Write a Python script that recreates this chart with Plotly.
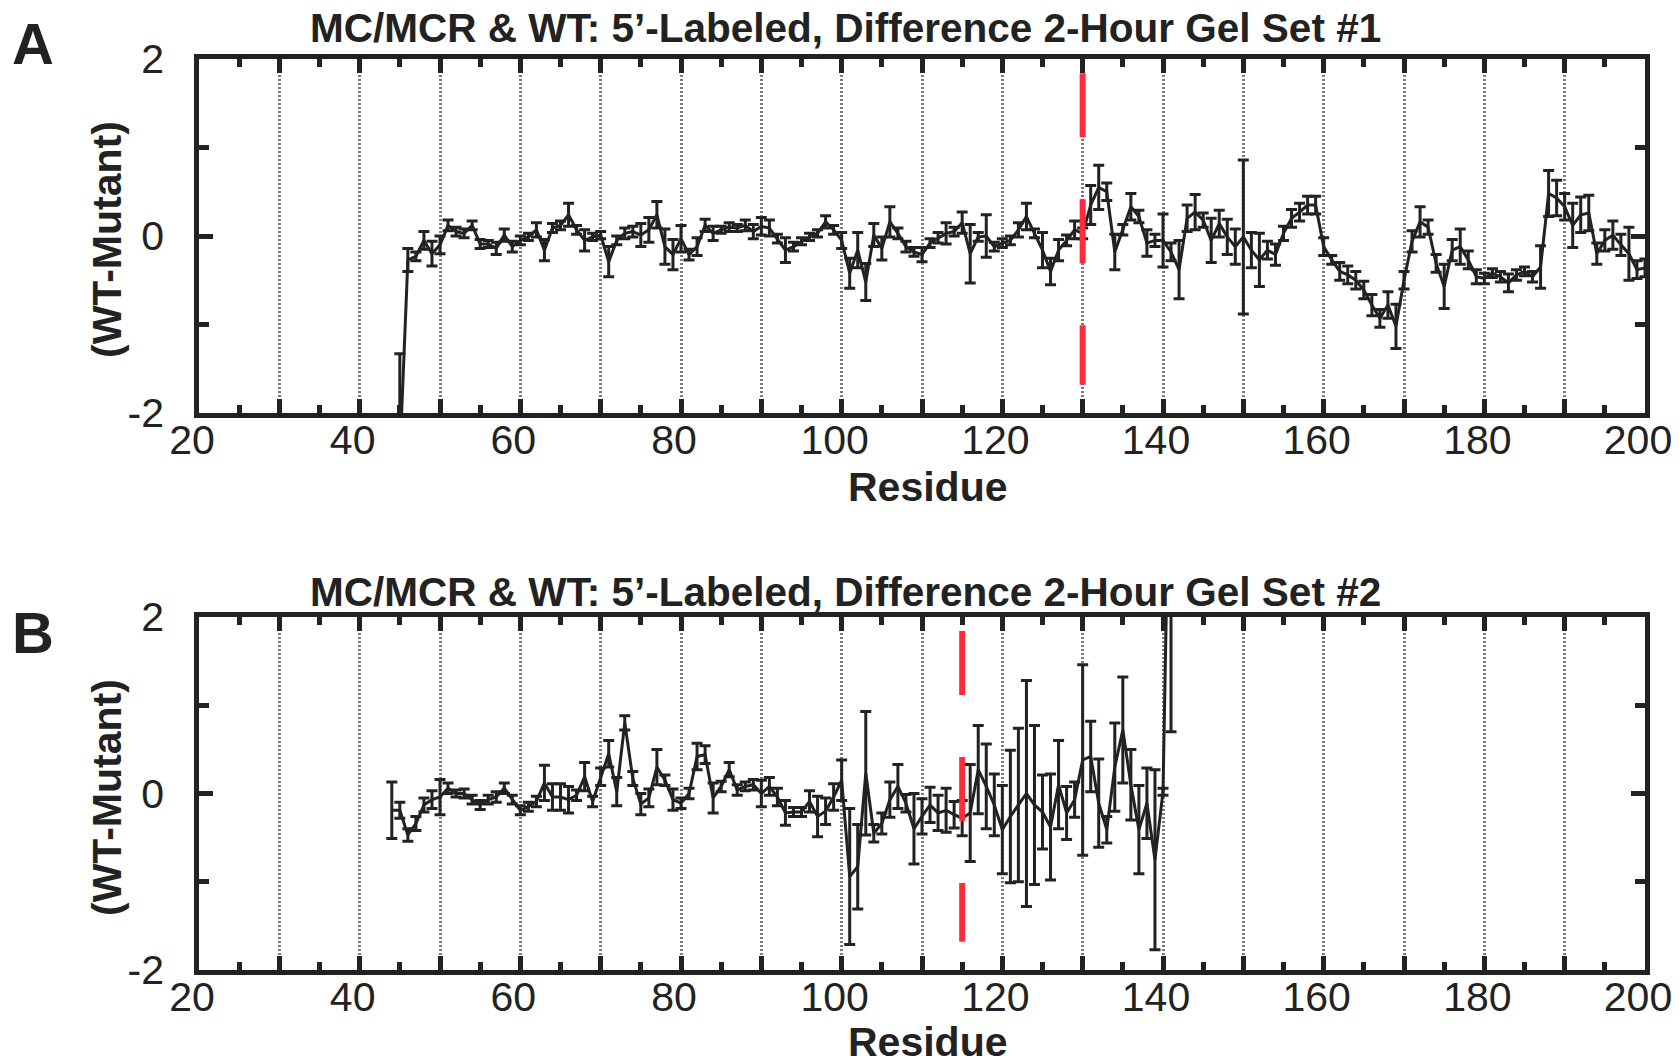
import plotly.graph_objects as go

# ---------------- data ----------------
res_a = list(range(45, 201))
val_a = [-2.5, -0.27, -0.23, -0.05, -0.2, -0.1, 0.12, 0.05, 0.03, 0.12,
         -0.09, -0.09, -0.14, 0.01, -0.12, -0.05, -0.01, 0.07, -0.16, 0.09,
         0.12, 0.24, 0.07, -0.05, -0.01, 0.01, -0.29, -0.05, 0.03, 0.05,
         0.01, 0.07, 0.24, -0.12, -0.21, -0.03, -0.21, -0.12, 0.12, 0.03,
         0.07, 0.1, 0.09, 0.12, 0.05, 0.11, 0.09, -0.03, -0.16, -0.12,
         -0.06, -0.01, 0.03, 0.16, 0.07, -0.05, -0.42, -0.16, -0.52, 0.01,
         -0.14, 0.16, 0.03, -0.12, -0.18, -0.21, -0.08, -0.02, 0.03, 0.05,
         0.15, -0.2, -0.01, 0.0, -0.12, -0.08, -0.05, 0.07, 0.22, 0.03,
         -0.16, -0.4, -0.16, -0.05, 0.07, 0.03, 0.35, 0.55, 0.5, -0.18,
         0.07, 0.33, 0.22, -0.08, -0.05, -0.05, -0.18, -0.38, 0.2, 0.27,
         0.18, -0.05, 0.14, -0.01, -0.12, -0.01, -0.16, -0.27, -0.16, -0.21,
         0.03, 0.2, 0.27, 0.35, 0.35, -0.12, -0.27, -0.4, -0.44, -0.5,
         -0.61, -0.78, -0.93, -0.78, -1.02, -0.5, -0.06, 0.16, 0.1, -0.31,
         -0.57, -0.16, -0.12, -0.27, -0.46, -0.48, -0.42, -0.46, -0.53, -0.44,
         -0.4, -0.46, -0.35, 0.48, 0.43, 0.33, 0.12, 0.24, 0.26, -0.2,
         -0.05, 0.01, -0.1, -0.2, -0.38, -0.36]
err_a = [1.17, 0.13, 0.05, 0.1, 0.14, 0.1, 0.06, 0.05, 0.05, 0.05,
         0.05, 0.04, 0.07, 0.07, 0.06, 0.05, 0.04, 0.08, 0.12, 0.05,
         0.05, 0.13, 0.05, 0.12, 0.04, 0.04, 0.17, 0.05, 0.06, 0.06,
         0.13, 0.14, 0.15, 0.2, 0.17, 0.15, 0.06, 0.1, 0.07, 0.08,
         0.04, 0.05, 0.04, 0.06, 0.08, 0.1, 0.09, 0.05, 0.14, 0.05,
         0.04, 0.04, 0.04, 0.07, 0.05, 0.09, 0.17, 0.2, 0.21, 0.13,
         0.13, 0.17, 0.06, 0.06, 0.05, 0.08, 0.05, 0.06, 0.12, 0.05,
         0.12, 0.33, 0.05, 0.24, 0.05, 0.05, 0.05, 0.08, 0.15, 0.05,
         0.2, 0.15, 0.12, 0.06, 0.1, 0.06, 0.22, 0.25, 0.1, 0.2,
         0.06, 0.15, 0.07, 0.15, 0.07, 0.3, 0.1, 0.33, 0.15, 0.2,
         0.08, 0.25, 0.15, 0.2, 0.2, 0.87, 0.2, 0.3, 0.1, 0.12,
         0.08, 0.1, 0.1, 0.1, 0.1, 0.1, 0.05, 0.1, 0.1, 0.1,
         0.1, 0.12, 0.1, 0.15, 0.25, 0.1, 0.12, 0.17, 0.08, 0.1,
         0.25, 0.12, 0.2, 0.1, 0.08, 0.06, 0.05, 0.06, 0.1, 0.06,
         0.05, 0.06, 0.24, 0.26, 0.2, 0.15, 0.25, 0.2, 0.2, 0.12,
         0.12, 0.16, 0.12, 0.3, 0.1, 0.1]

res_b = list(range(44, 142))
val_b = [-0.19, -0.19, -0.47, -0.34, -0.13, -0.07, -0.04, 0.06, 0.0, 0.0,
         -0.07, -0.13, -0.07, -0.04, 0.06, -0.07, -0.19, -0.15, -0.09, 0.12,
         -0.04, -0.04, -0.07, -0.02, 0.19, -0.09, 0.19, 0.45, 0.02, 0.8,
         0.17, -0.12, -0.05, 0.3, 0.15, -0.07, -0.11, 0.0, 0.42, 0.44,
         -0.05, 0.08, 0.27, 0.04, 0.08, 0.1, 0.0, 0.08, -0.04, -0.22,
         -0.21, -0.21, -0.09, -0.26, -0.2, -0.04, 0.15, -0.94, -0.83, 0.23,
         -0.45, -0.34, -0.07, 0.08, -0.11, -0.4, -0.26, -0.13, -0.22, -0.19,
         -0.24, -0.28, -0.22, 0.27, 0.08, -0.13, -0.41, -0.26, -0.13, 0.0,
         -0.13, -0.21, -0.38, 0.1, -0.22, -0.07, 0.38, 0.42, -0.11, -0.41,
         0.3, 0.72, 0.1, -0.41, -0.11, -0.75, 0.02, 5.0]
err_b = [0.32, 0.09, 0.07, 0.08, 0.08, 0.1, 0.2, 0.06, 0.04, 0.05,
         0.05, 0.05, 0.05, 0.06, 0.06, 0.05, 0.05, 0.05, 0.06, 0.2,
         0.15, 0.15, 0.15, 0.06, 0.16, 0.06, 0.1, 0.15, 0.16, 0.08,
         0.08, 0.12, 0.1, 0.2, 0.06, 0.12, 0.06, 0.06, 0.15, 0.1,
         0.17, 0.06, 0.08, 0.06, 0.05, 0.06, 0.15, 0.1, 0.1, 0.14,
         0.05, 0.05, 0.12, 0.23, 0.15, 0.15, 0.23, 0.77, 0.48, 0.7,
         0.1, 0.12, 0.2, 0.25, 0.1, 0.4, 0.2, 0.2, 0.2, 0.25,
         0.15, 0.2, 0.55, 0.5, 0.48, 0.35, 0.5, 0.75, 0.87, 1.28,
         0.9, 0.42, 0.6, 0.5, 0.3, 0.2, 1.08, 0.4, 0.5, 0.15,
         0.5, 0.6, 0.4, 0.5, 0.4, 1.02, 0.04, 4.3]

mark_a = 130
mark_b = 115
title_a = "MC/MCR & WT: 5’-Labeled, Difference 2-Hour Gel Set #1"
title_b = "MC/MCR & WT: 5’-Labeled, Difference 2-Hour Gel Set #2"
x_tickvals = list(range(20, 201, 10))
x_ticktext = [str(v) if v % 20 == 0 else "" for v in x_tickvals]
y_tickvals = [-2, 0, 2]

# ---------------- figure ----------------
SW, SH = 1679, 1062          # browser window
OFF = 8                      # default page body margin
W, H = SW - OFF, SH - OFF    # plot div reaches the window edges
DARK = "#222222"
TICKFONT = dict(family="Liberation Sans, Arial, sans-serif", size=41, color=DARK)
BOLDFAM = "Liberation Sans Narrow, Arial Narrow, Liberation Sans, Arial, sans-serif"

def px_x(x):
    return (x - OFF) / W

def px_y(y):
    return 1 - (y - OFF) / H

fig = go.Figure()
for res, val, err, xa, ya in [(res_a, val_a, err_a, "x", "y"),
                              (res_b, val_b, err_b, "x2", "y2")]:
    fig.add_trace(go.Scatter(
        x=res, y=val, mode="lines", xaxis=xa, yaxis=ya,
        line=dict(color=DARK, width=3),
        error_y=dict(type="data", array=err, visible=True, color=DARK,
                     thickness=3, width=5.5),
        showlegend=False, cliponaxis=True))

def xax(anchor):
    return dict(
        domain=[px_x(199), px_x(1645)], range=[20, 200], anchor=anchor, automargin=False,
        tickmode="array", tickvals=x_tickvals, ticktext=x_ticktext,
        ticks="inside", ticklen=14, tickwidth=5, tickcolor=DARK,
        showline=True, linewidth=4.5, linecolor=DARK, mirror="ticks",
        showgrid=True, gridcolor="#7a7a7a", gridwidth=2.5, griddash="2px,2px",
        zeroline=False, tickfont=TICKFONT, ticklabeloverflow="allow",
        ticklabelshift=-7,
        minor=dict(dtick=5, tick0=20, ticks="inside", ticklen=8, tickwidth=5,
                   tickcolor=DARK, showgrid=False),
        ticklabelstandoff=-13,
    )

def yax(top, bottom, anchor):
    return dict(
        domain=[px_y(bottom), px_y(top)], range=[-2, 2], anchor=anchor, automargin=False,
        tickmode="array", tickvals=y_tickvals, ticktext=[str(v) for v in y_tickvals],
        ticks="inside", ticklen=14, tickwidth=5, tickcolor=DARK,
        showline=True, linewidth=4.5, linecolor=DARK, mirror="ticks",
        showgrid=False, zeroline=False, tickfont=TICKFONT, ticklabeloverflow="allow",
        minor=dict(dtick=1, tick0=0, ticks="inside", ticklen=10, tickwidth=5,
                   tickcolor=DARK, showgrid=False),
        ticklabelstandoff=22,
    )

fig.update_layout(
    width=W, height=H, margin=dict(l=0, r=0, t=0, b=0, autoexpand=False),
    paper_bgcolor="white", plot_bgcolor="white",
    xaxis=xax("y"), yaxis=yax(59, 413, "x"),
    xaxis2=xax("y2"), yaxis2=yax(617, 970, "x2"),
)

# red dashed marker lines
for xm, xr, yr in [(mark_a, "x", "y"), (mark_b, "x2", "y2")]:
    fig.add_shape(type="line", xref=xr, yref=yr, x0=xm, x1=xm, y0=1.84, y1=-1.68,
                  line=dict(color="#ff2a3a", width=6, dash="64px,62px"), layer="above")

def ann(text, x, y, size, angle=0, family=BOLDFAM):
    fig.add_annotation(text=text, xref="paper", yref="paper", x=px_x(x), y=px_y(y),
                       showarrow=False, textangle=angle, xanchor="center", yanchor="middle",
                       font=dict(family=family, size=size, color=DARK))

ann("<b>" + title_a + "</b>", 846, 28, 40.5)
ann("<b>" + title_b + "</b>", 846, 592, 40.5)
ann("<b>A</b>", 33, 43, 58, family="Liberation Sans, Arial, sans-serif")
ann("<b>B</b>", 33, 632, 58, family="Liberation Sans, Arial, sans-serif")
ann("<b>(WT-Mutant)</b>", 107, 240, 41, angle=-90)
ann("<b>(WT-Mutant)</b>", 107, 798, 41, angle=-90)
ann("<b>Residue</b>", 928, 487, 41)
ann("<b>Residue</b>", 928, 1042, 41)

fig.write_html("out.html")
